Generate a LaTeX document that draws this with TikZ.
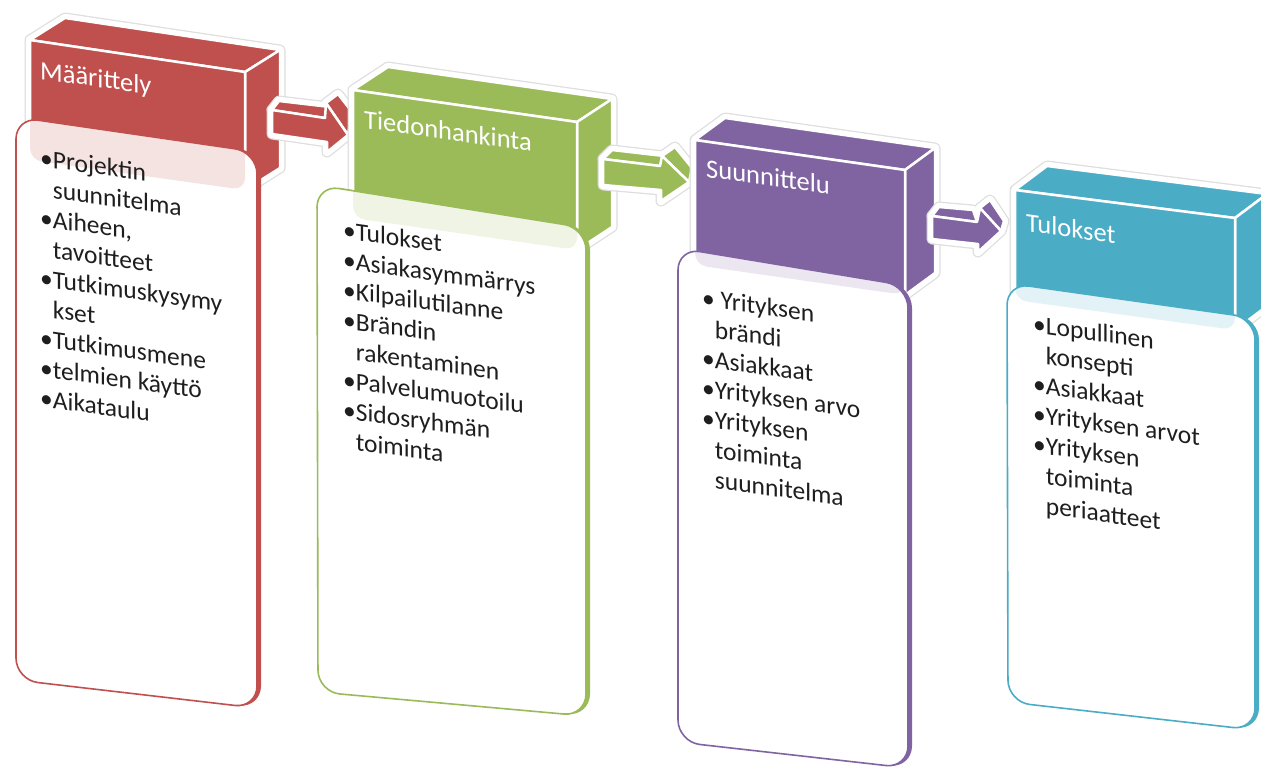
\documentclass[tikz,border=0pt]{standalone}
\usepackage{fontspec}
\setmainfont{Carlito}
\definecolor{cred}{HTML}{C0504D}
\definecolor{cgreen}{HTML}{9BBB59}
\definecolor{cpurple}{HTML}{8064A2}
\definecolor{cteal}{HTML}{4BACC6}
\definecolor{ctext}{HTML}{1E1E1E}
\newcommand{\ind}{\phantom{•}}
\newcommand{\fst}{\rule{0pt}{20pt}}
\tikzset{
  halo/.style={draw=black!13, line width=11pt, line join=round},
  haloin/.style={draw=white, fill=white, line width=8.5pt, line join=round},
  face/.style={fill=#1, draw=white, line width=2.5pt, line join=round},
  cardfill/.style={fill=white, rounded corners=22pt},
  cardedge/.style={draw=#1, line width=1.6pt, rounded corners=22pt},
  cardside/.style={fill=#1, rounded corners=22pt},
  title/.style={text=white, font=\fontsize{26.5}{30}\selectfont, yslant=-0.14, anchor=base west, inner sep=0pt},
  body/.style={text=ctext, font=\fontsize{25.5}{30}\selectfont, yslant=-0.14, anchor=north west, align=left, inner sep=0pt},
}
% header box: color, TLx, TLy, TRx, TRy, BLy, BRy, dx, dy
\newcommand{\hdrbox}[9]{%
  \path[halo] (#2,#3) -- ({#2+#8},{#3+#9}) -- ({#4+#8},{#5+#9}) -- ({#4+#8},{#7+#9}) -- (#4,#7) -- (#2,#6) -- cycle;
  \path[haloin] (#2,#3) -- ({#2+#8},{#3+#9}) -- ({#4+#8},{#5+#9}) -- ({#4+#8},{#7+#9}) -- (#4,#7) -- (#2,#6) -- cycle;
  \path[face=#1] (#2,#3) -- ({#2+#8},{#3+#9}) -- ({#4+#8},{#5+#9}) -- (#4,#5) -- cycle;
  \path[face=#1] (#4,#5) -- ({#4+#8},{#5+#9}) -- ({#4+#8},{#7+#9}) -- (#4,#7) -- cycle;
  \path[face=#1] (#2,#3) -- (#4,#5) -- (#4,#7) -- (#2,#6) -- cycle;
}
% card base: color, A, B, C, D corners
\newcommand{\cardbase}[9]{%
  \path[cardside=#1, xshift=4pt] (#2,#3) -- (#4,#5) -- (#6,#7) -- (#8,#9) -- cycle;
  \path[cardfill] (#2,#3) -- (#4,#5) -- (#6,#7) -- (#8,#9) -- cycle;
}
\newcommand{\cardborder}[9]{%
  \path[cardedge=#1] (#2,#3) -- (#4,#5) -- (#6,#7) -- (#8,#9) -- cycle;
}
\newcommand{\cardband}[9]{%
  \begin{scope}
    \clip[rounded corners=22pt] (#2,#3) -- (#4,#5) -- (#6,#7) -- (#8,#9) -- cycle;
    \fill[#1!16, rounded corners=12pt] (\fAx,\fAy) -- (\fBx,\fBy) -- (\fBx,\fCy) -- (\fAx,\fDy) -- cycle;
  \end{scope}
}
\begin{document}
\begin{tikzpicture}[x=1pt,y=-1pt]
\useasboundingbox (0,0) rectangle (1261,769);
\fill[white] (0,0) rectangle (1261,769);

% ---------- Unit 1 : red ----------
\hdrbox{cred}{30}{40}{245}{72}{160}{190}{35}{-22}
\cardbase{cred}{16}{117}{257}{152}{257}{708}{16}{680}
\def\fAx{30}\def\fAy{40}\def\fBx{245}\def\fBy{72}\def\fCy{190}\def\fDy{160}
\cardband{cred}{16}{117}{257}{152}{257}{708}{16}{680}
\cardborder{cred}{16}{117}{257}{152}{257}{708}{16}{680}
\node[title] (h1) at (40,79) {Määrittely};
\node[body] (t1) at (40,146) {\fst•Projektin\\\ind suunnitelma\\•Aiheen,\\\ind tavoitteet\\•Tutkimuskysymy\\\ind kset\\•Tutkimusmene\\•telmien käyttö\\•Aikataulu};

% arrow 1
\foreach \s in {halo,haloin}{
  \path[\s] (272,110) -- (325,118) -- (326,103) -- (348,135) -- (327,152) -- (327,142) -- (272,134) -- cycle;
  \path[\s] (272,110) -- (279,101) -- (330,107) -- (325,118) -- cycle;
  \path[\s] (326,103) -- (338,94) -- (352,112) -- (348,135) -- cycle;
}
\path[face=cred] (272,110) -- (279,101) -- (330,107) -- (325,118) -- cycle;
\path[face=cred] (326,103) -- (338,94) -- (352,112) -- (348,135) -- cycle;
\path[face=cred] (272,110) -- (325,118) -- (326,103) -- (348,135) -- (327,152) -- (327,142) -- (272,134) -- cycle;

% ---------- Unit 2 : green ----------
\hdrbox{cgreen}{353}{90}{577}{122}{218}{250}{35}{-23}
\cardbase{cgreen}{317}{185}{586}{228}{586}{716}{318}{692}
\def\fAx{353}\def\fAy{90}\def\fBx{577}\def\fBy{122}\def\fCy{250}\def\fDy{218}
\cardband{cgreen}{317}{185}{586}{228}{586}{716}{318}{692}
\cardborder{cgreen}{317}{185}{586}{228}{586}{716}{318}{692}
\node[title] (h2) at (364,128) {Tiedonhankinta};
\node[body] (t2) at (343,218) {\fst•Tulokset\\•Asiakasymmärrys\\•Kilpailutilanne\\•Brändin\\\ind rakentaminen\\•Palvelumuotoilu\\•Sidosryhmän\\\ind toiminta};

% arrow 2
\foreach \s in {halo,haloin}{
  \path[\s] (603,159) -- (660,166) -- (662,156) -- (689,182) -- (661,201) -- (661,190) -- (603,185) -- cycle;
  \path[\s] (603,159) -- (612,150) -- (664,156) -- (660,166) -- cycle;
  \path[\s] (662,156) -- (675,147) -- (692,168) -- (689,182) -- cycle;
}
\path[face=cgreen] (603,159) -- (612,150) -- (664,156) -- (660,166) -- cycle;
\path[face=cgreen] (662,156) -- (675,147) -- (692,168) -- (689,182) -- cycle;
\path[face=cgreen] (603,159) -- (660,166) -- (662,156) -- (689,182) -- (661,201) -- (661,190) -- (603,185) -- cycle;

% ---------- Unit 3 : purple ----------
\hdrbox{cpurple}{695}{140}{905}{170}{265}{295}{30}{-22}
\cardbase{cpurple}{678}{248}{908}{286}{908}{768}{678}{742}
\def\fAx{695}\def\fAy{140}\def\fBx{905}\def\fBy{170}\def\fCy{295}\def\fDy{265}
\cardband{cpurple}{678}{248}{908}{286}{908}{768}{678}{742}
\cardborder{cpurple}{678}{248}{908}{286}{908}{768}{678}{742}
\node[title] (h3) at (706,177) {Suunnittelu};
\node[body] (t3) at (702,286) {\fst• Yrityksen\\\ind brändi\\•Asiakkaat\\•Yrityksen arvo\\•Yrityksen\\\ind toiminta\\\ind suunnitelma};

% arrow 3
\foreach \s in {halo,haloin}{
  \path[\s] (932,216) -- (977,222) -- (980,208) -- (1001,231) -- (978,252) -- (978,244) -- (932,239) -- cycle;
  \path[\s] (932,216) -- (939,207) -- (973,210) -- (977,222) -- cycle;
  \path[\s] (980,208) -- (990,200) -- (1004,221) -- (1001,231) -- cycle;
}
\path[face=cpurple] (932,216) -- (939,207) -- (973,210) -- (977,222) -- cycle;
\path[face=cpurple] (980,208) -- (990,200) -- (1004,221) -- (1001,231) -- cycle;
\path[face=cpurple] (932,216) -- (977,222) -- (980,208) -- (1001,231) -- (978,252) -- (978,244) -- (932,239) -- cycle;

% ---------- Unit 4 : teal ----------
\hdrbox{cteal}{1015}{190}{1235}{218}{300}{330}{32}{-24}
\cardbase{cteal}{1007}{283}{1255}{318}{1255}{730}{1008}{702}
\def\fAx{1015}\def\fAy{190}\def\fBx{1235}\def\fBy{218}\def\fCy{330}\def\fDy{300}
\cardband{cteal}{1007}{283}{1255}{318}{1255}{730}{1008}{702}
\cardborder{cteal}{1007}{283}{1255}{318}{1255}{730}{1008}{702}
\node[title] (h4) at (1026,231) {Tulokset};
\node[body] (t4) at (1033,312) {\fst•Lopullinen\\\ind konsepti\\•Asiakkaat\\•Yrityksen arvot\\•Yrityksen\\\ind toiminta\\\ind periaatteet};
\end{tikzpicture}
\end{document}
